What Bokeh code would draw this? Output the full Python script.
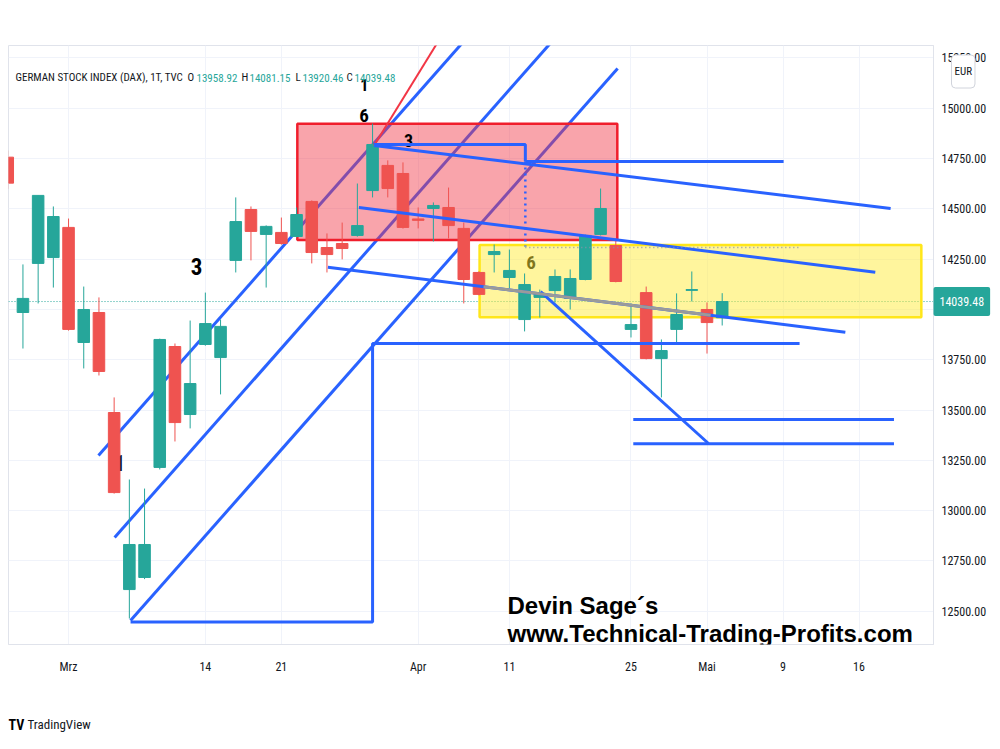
from bokeh.plotting import figure
from bokeh.models import Range1d, FixedTicker, NumeralTickFormatter, Label, Span
from bokeh.core.properties import value
from bokeh.embed import file_html
from bokeh.resources import INLINE

# ---------------- data (daily DAX candles, trading-day index: 2022-03-01 = 0) ----------------
dates = ["2022-02-23", "2022-02-24", "2022-02-25", "2022-02-28",
         "2022-03-01", "2022-03-02", "2022-03-03", "2022-03-04", "2022-03-07", "2022-03-08",
         "2022-03-09", "2022-03-10", "2022-03-11", "2022-03-14", "2022-03-15", "2022-03-16",
         "2022-03-17", "2022-03-18", "2022-03-21", "2022-03-22", "2022-03-23", "2022-03-24",
         "2022-03-25", "2022-03-28", "2022-03-29", "2022-03-30", "2022-03-31", "2022-04-01",
         "2022-04-04", "2022-04-05", "2022-04-06", "2022-04-07", "2022-04-08", "2022-04-11",
         "2022-04-12", "2022-04-13", "2022-04-14", "2022-04-19", "2022-04-20", "2022-04-21",
         "2022-04-22", "2022-04-25", "2022-04-26", "2022-04-27", "2022-04-28", "2022-04-29",
         "2022-05-02", "2022-05-03"]
opens = [14757, 13985, 14229, 14258, 14408, 13836, 13985, 13488, 12608, 12668,
         13215, 13816, 13478, 13826, 13761, 14244, 14497, 14373, 14383, 14363,
         14537, 14308, 14328, 14368, 14591, 14716, 14676, 14450, 14502, 14507,
         14403, 14184, 14273, 14159, 13950, 14060, 14094, 14055, 14149, 14373,
         14318, 13901, 14084, 13756, 13901, 14095, 14000, 13958.92]
highs = [14790, 14224, 14567, 14512, 14452, 14114, 14060, 13563, 13155, 13110,
         13855, 13831, 13945, 14084, 13950, 14557, 14512, 14418, 14457, 14507,
         14542, 14378, 14432, 14626, 14924, 14741, 14731, 14507, 14532, 14606,
         14432, 14190, 14323, 14298, 14179, 14099, 14199, 14199, 14372, 14601,
         14353, 14030, 14114, 13851, 14080, 14189, 14035, 14081.15]
lows = [14600, 13806, 14030, 14109, 13895, 13707, 13672, 13085, 12464, 12660,
        13205, 13344, 13409, 13820, 13578, 14184, 14244, 14109, 14322, 14358,
        14229, 14184, 14249, 14362, 14557, 14557, 14402, 14403, 14338, 14353,
        14030, 14070, 14184, 14104, 13891, 13960, 14035, 14000, 14145, 14368,
        14135, 13861, 13752, 13563, 13826, 14040, 13781, 13920.46]
closes = [14628, 14055, 14567, 14462, 13901, 14000, 13692, 13090, 12832, 12832,
          13851, 13438, 13632, 13930, 13916, 14437, 14388, 14413, 14328, 14472,
          14283, 14273, 14303, 14417, 14820, 14601, 14408, 14443, 14517, 14417,
          14149, 14075, 14288, 14194, 14124, 14080, 14164, 14154, 14368, 14502,
          14139, 13925, 13756, 13796, 13975, 14099, 13935, 14039.48]
xs = list(range(-4, len(dates) - 4))

tick_pos = [0, 9, 14, 23, 29, 37, 42, 47, 52]
tick_labels = ["Mrz", "14", "21", "Apr", "11", "25", "Mai", "9", "16"]
price_ticks = [12500, 12750, 13000, 13250, 13500, 13750, 14000, 14250, 14500, 14750, 15000, 15250]

# drawings: (trading-day index, price)
channel_x0 = [1.97, 3.03, 4.08]
channel_y0 = [13274, 12867, 12454]
channel_x1 = [26.34, 32.15, 36.12]
channel_y1 = [15362, 15362, 15198]

red_zone = dict(left=15.05, right=36.1, bottom=14345, top=14923)
yellow_zone = dict(left=27.04, right=56.1, bottom=13962, top=14321)

red_line_x = [20.1, 24.56]
red_line_y = [14815, 15362]

measure_x = [4.08, 20.0, 20.0, 48.09]
measure_y = [12447, 12447, 13831, 13831]

top_path_x = [20.1, 30.05, 30.05]
top_path_y = [14820, 14820, 14736]

hline_x0 = [30.05, 37.15, 37.15]
hline_x1 = [47.04, 54.3, 54.3]
hline_y = [14736, 13453, 13333]

desc_x0 = [20.1, 19.1, 17.06, 31.05]
desc_y0 = [14815, 14507, 14210, 14089]
desc_x1 = [54.08, 53.07, 51.1, 42.1]
desc_y1 = [14502, 14185, 13887, 13334]

grey_x = [27.3, 42.24]
grey_y = [14113, 13971]

dotted_v_x = [30.05, 30.05]
dotted_v_y = [14736, 14313]
dotted_h_x = [30.05, 48.2]
dotted_h_y = [14308, 14308]

wave_x = [19.45, 19.44, 22.37, 8.42, 3.36]
wave_y = [15118, 14964, 14840, 14214, 13235]
wave_t = ["1", "6", "3", "3", "1"]
wave_s = ["16px", "19px", "18px", "23px", "22px"]
yellow_six = (30.43, 14234, "6")

# ---------------- styling ----------------
GREEN = "#26a69a"
RED = "#ef5350"
BLUE = "#2962ff"
NARROW = "'Roboto Condensed', 'Liberation Sans', sans-serif"
DARK = "#131722"

p = figure(width=1000, height=749, output_backend="svg", toolbar_location=None,
           x_range=Range1d(-3.95, 56.9), y_range=Range1d(12335, 15312),
           y_axis_location="right",
           min_border_left=8, min_border_right=67, min_border_top=45, min_border_bottom=105)
p.background_fill_color = "white"
p.border_fill_color = "white"
p.outline_line_color = "#e0e3eb"

p.xaxis.ticker = FixedTicker(ticks=tick_pos)
p.xaxis.major_label_overrides = {t: l for t, l in zip(tick_pos, tick_labels)}
p.yaxis.ticker = FixedTicker(ticks=price_ticks)
p.yaxis.formatter = NumeralTickFormatter(format="0.00")
for ax in (p.xaxis, p.yaxis):
    ax.axis_line_color = "#e0e3eb"
    ax.major_tick_line_color = None
    ax.minor_tick_line_color = None
    ax.major_tick_out = 0
    ax.major_tick_in = 0
    ax.major_label_text_font = NARROW
    ax.major_label_text_font_size = "12px"
    ax.major_label_text_color = DARK
p.xaxis.major_label_standoff = 15
p.yaxis.major_label_standoff = 8
p.xgrid.ticker = FixedTicker(ticks=tick_pos)
p.ygrid.ticker = FixedTicker(ticks=price_ticks)
p.grid.grid_line_color = "#f0f3fa"
p.grid.grid_line_width = 1

p.add_layout(Span(location=closes[-1], dimension="width", line_color=GREEN,
                  line_dash="1 2", line_width=1, level="underlay"))

p.text(x=[yellow_six[0]], y=[yellow_six[1]], text=[yellow_six[2]], text_align="center",
       text_baseline="middle", text_font=value(NARROW), text_font_style="bold",
       text_font_size="19px", text_color="black")

p.segment(x0=channel_x0, y0=channel_y0, x1=channel_x1, y1=channel_y1, line_color=BLUE, line_width=3)

p.quad(left=[red_zone["left"]], right=[red_zone["right"]], top=[red_zone["top"]],
       bottom=[red_zone["bottom"]], fill_color="#f23645", fill_alpha=0.45,
       line_color="#f01e2c", line_width=2.5)
p.quad(left=[yellow_zone["left"]], right=[yellow_zone["right"]], top=[yellow_zone["top"]],
       bottom=[yellow_zone["bottom"]], fill_color="#ffeb3b", fill_alpha=0.5,
       line_color="#ffe61a", line_width=2.5)

p.text(x=wave_x, y=wave_y, text=wave_t, text_align="center", text_baseline="middle",
       text_font=value(NARROW), text_font_style="bold", text_font_size=wave_s,
       text_color="black")

colors = [GREEN if c >= o else RED for o, c in zip(opens, closes)]
p.segment(x0=xs, y0=lows, x1=xs, y1=highs, line_color=colors, line_width=1)
p.vbar(x=xs, width=0.76, top=[max(o, c) for o, c in zip(opens, closes)],
       bottom=[min(o, c) for o, c in zip(opens, closes)],
       fill_color=colors, line_color=colors, line_width=1)

p.line(red_line_x, red_line_y, line_color="#f23645", line_width=2)
p.line(measure_x, measure_y, line_color=BLUE, line_width=3)
p.line(top_path_x, top_path_y, line_color=BLUE, line_width=3)
p.segment(x0=hline_x0, y0=hline_y, x1=hline_x1, y1=hline_y, line_color=BLUE, line_width=3)
p.segment(x0=desc_x0, y0=desc_y0, x1=desc_x1, y1=desc_y1, line_color=BLUE, line_width=3)
p.line(grey_x, grey_y, line_color="#9a9a9a", line_width=3)
p.line(dotted_v_x, dotted_v_y, line_color=BLUE, line_width=2.5, line_dash="2 4")
p.line(dotted_h_x, dotted_h_y, line_color="#8a93a8", line_width=1.5, line_dash="1 3")


def lab(px, py, text, size, color, font=NARROW, style="normal", align="left",
        baseline="alphabetic", **kw):
    p.add_layout(Label(x=px - 8, y=644 - py, x_units="screen", y_units="screen", text=text,
                       text_font_size=size, text_color=color, text_font=font,
                       text_font_style=style, text_align=align, text_baseline=baseline, **kw))


def side_lab(place, px, py, text, size, color, font=NARROW, style="normal", align="left",
             baseline="alphabetic", **kw):
    p.add_layout(Label(x=px, y=py, x_units="canvas", y_units="canvas", text=text,
                       text_font_size=size, text_color=color, text_font=font,
                       text_font_style=style, text_align=align, text_baseline=baseline, **kw),
                 place)


lab(15, 77, "GERMAN STOCK INDEX (DAX), 1T, TVC", "11px", DARK)
for lx, letter, vx, val in [(187, "O", 196, opens[-1]), (241, "H", 249, highs[-1]),
                            (295, "L", 302, lows[-1]), (346, "C", 354, closes[-1])]:
    lab(lx, 77, letter, "11px", DARK)
    lab(vx, 77, f"{val:.2f}", "11px", GREEN)

lab(507, 605, "Devin Sage´s", "24px", "black", font="'Liberation Sans', Arial, sans-serif",
    style="bold")
lab(507, 633, "www.Technical-Trading-Profits.com", "24px", "black",
    font="'Liberation Sans', Arial, sans-serif", style="bold")

# outside the frame: placed in side panels so they are not clipped
side_lab("below", 933, 301, f"{closes[-1]:.2f}", "12px", "white", baseline="middle",
         background_fill_color=GREEN, padding=(6, 10), border_radius=2)
side_lab("above", 951, 71, "EUR", "11px", DARK, baseline="middle",
         background_fill_color="white", border_line_color="#d1d4dc", padding=(3, 10),
         border_radius=4)
side_lab("below", 8, 724, "TV", "14px", "black", style="bold")
side_lab("below", 27, 724, "TradingView", "13px", DARK)

open("out.html", "w").write(file_html(p, INLINE))
